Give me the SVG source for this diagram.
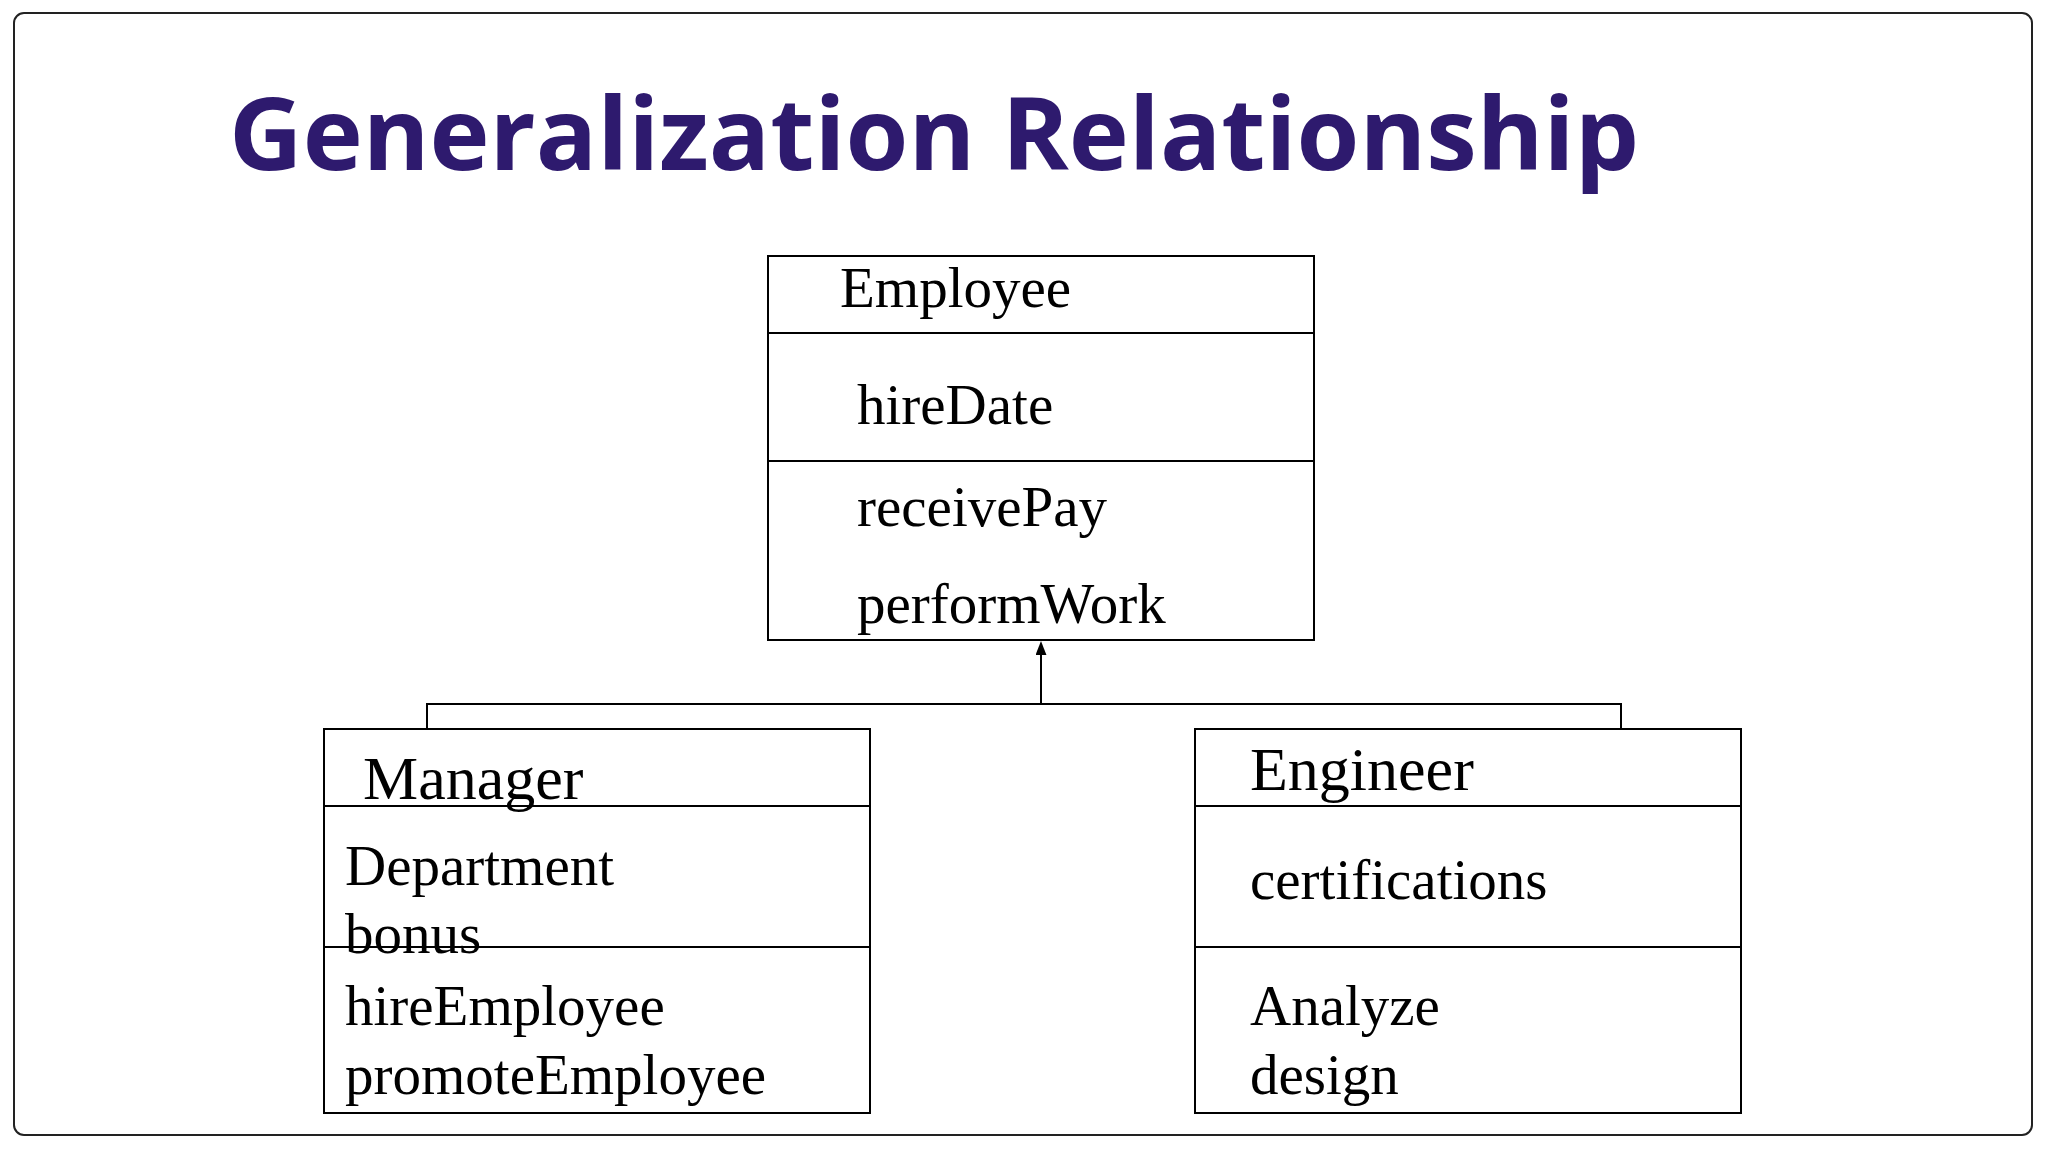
<svg xmlns="http://www.w3.org/2000/svg" width="2048" height="1152" viewBox="0 0 2048 1152">
<style>
.box{fill:#fff;stroke:#000;stroke-width:2}
.ln{stroke:#000;stroke-width:2;fill:none}
.t{font-family:"Liberation Serif",serif;font-size:57px;fill:#000}
.h{font-size:62px}
</style>
<defs><marker id="ah" viewBox="0 0 14 18" refX="14" refY="7" markerWidth="18" markerHeight="14" markerUnits="userSpaceOnUse" orient="auto"><path d="M0,0L18,7L0,14z" fill="#000"/></marker></defs>
<rect width="2048" height="1152" fill="#fff"/>
<rect x="14" y="13" width="2018" height="1122" rx="10" fill="#fff" stroke="#222" stroke-width="2"/>
<text x="229" y="170" font-family="Open Sans,sans-serif" font-weight="bold" font-size="100" fill="#2e1a6e" textLength="1410" lengthAdjust="spacingAndGlyphs">Generalization Relationship</text>
<g id="connectors">
<path class="ln" d="M427,729V704H1621V729"/>
<path class="ln" d="M1041,704V644" marker-end="url(#ah)"/>
</g>
<g id="employee">
<rect class="box" x="768" y="256" width="546" height="384"/>
<path class="ln" d="M768,333H1314M768,461H1314"/>
<text class="t" x="840" y="307">Employee</text>
<text class="t" x="857" y="424">hireDate</text>
<text class="t" x="857" y="526">receivePay</text>
<text class="t" x="857" y="623">performWork</text>
</g>
<g id="manager">
<rect class="box" x="324" y="729" width="546" height="384"/>
<path class="ln" d="M324,806H870M324,947H870"/>
<text class="t h" x="363" y="799">Manager</text>
<text class="t" x="345" y="885">Department</text>
<text class="t" x="345" y="953">bonus</text>
<text class="t" x="345" y="1025">hireEmployee</text>
<text class="t" x="345" y="1094">promoteEmployee</text>
</g>
<g id="engineer">
<rect class="box" x="1195" y="729" width="546" height="384"/>
<path class="ln" d="M1195,806H1741M1195,947H1741"/>
<text class="t h" x="1250" y="790">Engineer</text>
<text class="t" x="1250" y="899">certifications</text>
<text class="t" x="1250" y="1025">Analyze</text>
<text class="t" x="1250" y="1094">design</text>
</g>
</svg>
